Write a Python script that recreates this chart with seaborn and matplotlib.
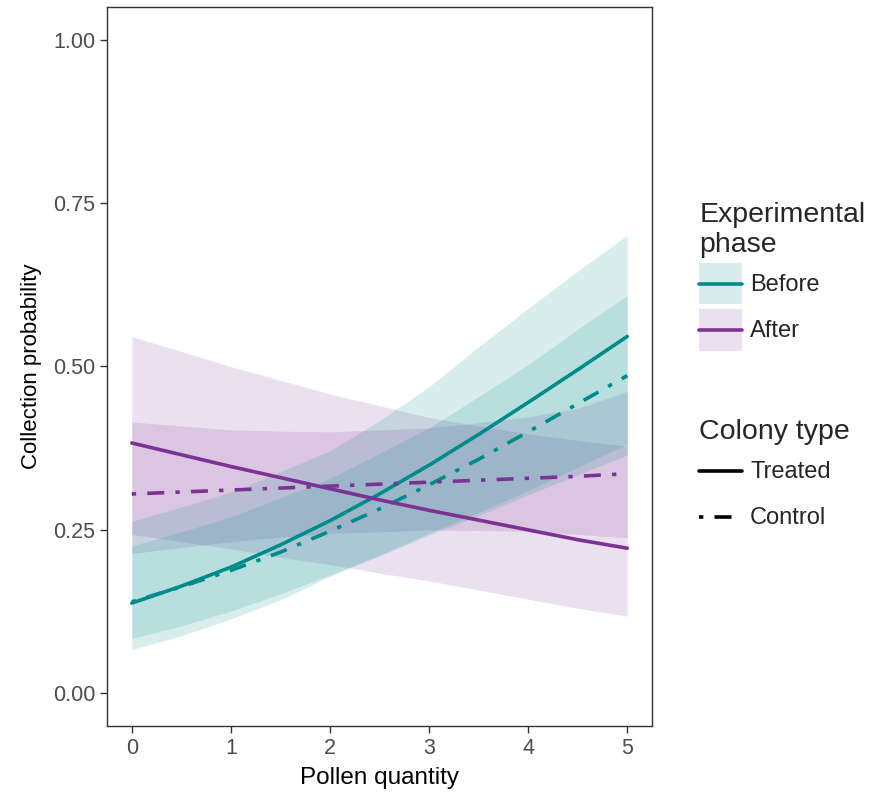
import numpy as np
import pandas as pd
import matplotlib
matplotlib.use("Agg")
import matplotlib.pyplot as plt
from matplotlib.patches import Patch
from matplotlib.lines import Line2D
from matplotlib.legend_handler import HandlerLine2D
import seaborn as sns

# Pollen quantity grid
pollen = [0, 0.5, 1, 1.5, 2, 2.5, 3, 3.5, 4, 4.5, 5]

# Before / Treated
before_treated = [0.138, 0.164, 0.193, 0.227, 0.264, 0.305, 0.349, 0.396, 0.445, 0.495, 0.546]
before_treated_lo = [0.067, 0.088, 0.114, 0.143, 0.179, 0.212, 0.245, 0.277, 0.310, 0.346, 0.381]
before_treated_hi = [0.263, 0.285, 0.308, 0.339, 0.371, 0.417, 0.469, 0.530, 0.589, 0.646, 0.701]

# Before / Control
before_control = [0.140, 0.163, 0.188, 0.216, 0.248, 0.282, 0.319, 0.358, 0.400, 0.443, 0.486]
before_control_lo = [0.084, 0.103, 0.126, 0.152, 0.181, 0.210, 0.242, 0.272, 0.304, 0.334, 0.365]
before_control_hi = [0.225, 0.247, 0.270, 0.299, 0.329, 0.367, 0.406, 0.454, 0.503, 0.557, 0.609]

# After / Treated
after_treated = [0.383, 0.365, 0.347, 0.330, 0.313, 0.296, 0.280, 0.265, 0.250, 0.235, 0.222]
after_treated_lo = [0.243, 0.232, 0.221, 0.208, 0.197, 0.184, 0.172, 0.158, 0.144, 0.130, 0.118]
after_treated_hi = [0.546, 0.523, 0.500, 0.479, 0.458, 0.440, 0.422, 0.409, 0.397, 0.387, 0.378]

# After / Control
after_control = [0.305, 0.308, 0.311, 0.314, 0.317, 0.320, 0.323, 0.326, 0.329, 0.332, 0.336]
after_control_lo = [0.214, 0.223, 0.232, 0.239, 0.245, 0.247, 0.250, 0.249, 0.248, 0.243, 0.238]
after_control_hi = [0.415, 0.409, 0.403, 0.401, 0.400, 0.403, 0.406, 0.414, 0.423, 0.436, 0.462]

phases = ["Before", "After"]
colonies = ["Treated", "Control"]
colors = {"Before": "#008B8B", "After": "#7B3294"}
dot_dash = (1.2, 3.1, 4.7, 3.1)

series = {
    ("Before", "Treated"): (before_treated, before_treated_lo, before_treated_hi),
    ("Before", "Control"): (before_control, before_control_lo, before_control_hi),
    ("After", "Treated"): (after_treated, after_treated_lo, after_treated_hi),
    ("After", "Control"): (after_control, after_control_lo, after_control_hi),
}

rows = []
for (phase, colony), (mid, lo, hi) in series.items():
    for x, m, l, h in zip(pollen, mid, lo, hi):
        rows.append({"pollen": x, "prob": m, "lo": l, "hi": h,
                     "phase": phase, "colony": colony})
df = pd.DataFrame(rows)


class CenteredLine(HandlerLine2D):
    # put the legend line in the middle of the key box (like ggplot keys)
    def create_artists(self, legend, orig_handle, xdescent, ydescent,
                       width, height, fontsize, trans):
        return super().create_artists(legend, orig_handle, xdescent, 2 * ydescent,
                                      width, height, fontsize, trans)


sns.set_style("ticks")
plt.rcParams["font.family"] = ["Liberation Sans", "DejaVu Sans"]

fig = plt.figure(figsize=(8.73, 7.94), dpi=100)
ax = fig.add_axes([107 / 873, 1 - 726 / 794, (652 - 107) / 873, (726 - 7) / 794])

# confidence ribbons
for (phase, colony), sub in df.groupby(["phase", "colony"]):
    ax.fill_between(sub["pollen"], sub["lo"], sub["hi"],
                    color=colors[phase], alpha=0.15, linewidth=0)

sns.lineplot(data=df, x="pollen", y="prob", hue="phase", style="colony",
             hue_order=phases, style_order=colonies, palette=colors,
             dashes={"Treated": "", "Control": dot_dash},
             linewidth=2.6, legend=False, ax=ax)

ax.set_xlim(-0.25, 5.25)
ax.set_ylim(-0.05, 1.05)
ax.set_xticks([0, 1, 2, 3, 4, 5])
ax.set_yticks([0, 0.25, 0.5, 0.75, 1.0])
ax.set_yticklabels(["0.00", "0.25", "0.50", "0.75", "1.00"])
ax.set_xlabel("Pollen quantity", fontsize=17.5, color="black", labelpad=6)
ax.set_ylabel("Collection probability", fontsize=16, color="black", labelpad=8)
ax.tick_params(labelsize=15.5, labelcolor="#4d4d4d", color="#333333",
               length=5, width=1)
for s in ax.spines.values():
    s.set_visible(True)
    s.set_color("#333333")
    s.set_linewidth(1)

# legends
leg_kw = dict(loc="upper left", frameon=False, fontsize=17, title_fontsize=20.5,
              handlelength=1.8, handleheight=2.3, handletextpad=0.35,
              labelspacing=0.21, alignment="left", borderaxespad=0,
              handler_map={Line2D: CenteredLine()})

phase_handles = [(Patch(facecolor=colors[p], alpha=0.15, linewidth=0),
                  Line2D([], [], color=colors[p], lw=2.6)) for p in phases]
fig.legend(phase_handles, phases, title="Experimental\nphase",
           bbox_to_anchor=(690 / 873, 1 - 193 / 794), **leg_kw)

colony_handles = [Line2D([], [], color="black", lw=2.6),
                  Line2D([], [], color="black", lw=2.6, dashes=dot_dash)]
fig.legend(colony_handles, colonies, title="Colony type",
           bbox_to_anchor=(690 / 873, 1 - 410 / 794), **leg_kw)

fig.savefig("out.png", dpi=100)
